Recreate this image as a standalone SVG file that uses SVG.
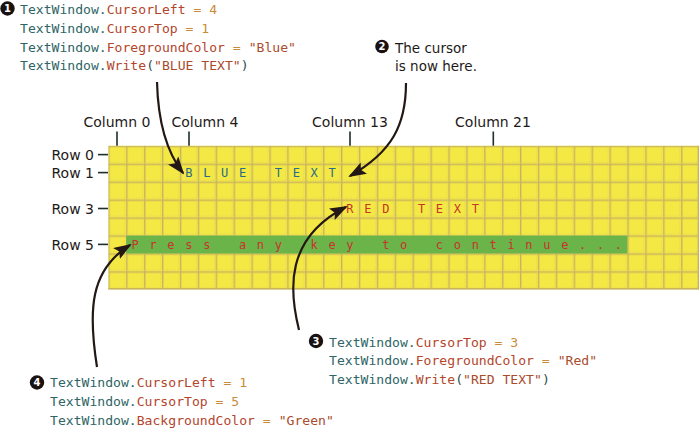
<svg xmlns="http://www.w3.org/2000/svg" width="700" height="429" viewBox="0 0 700 429">
<style>
.lbl{font-family:"DejaVu Sans","Liberation Sans",sans-serif;font-size:14px;fill:#1e1a18}
.code{font-family:"DejaVu Sans Mono","Liberation Mono",monospace;font-size:13.1px;fill:#2e6565;stroke:currentColor;stroke-width:0}
.cell{font-family:"DejaVu Sans Mono","Liberation Mono",monospace;font-size:12px;letter-spacing:10.676px}
.p{fill:#b3452b}.o{fill:#c98c3a}.s{fill:#a84c2c}.k{fill:#2e4e4e}
.tick{stroke:#1e2e2e;stroke-width:1.6}
.arr{fill:none;stroke:#231815;stroke-width:2.2;marker-end:url(#ah)}
.bul{fill:#1a1210}
.bn{font-family:"DejaVu Sans","Liberation Sans",sans-serif;font-size:10px;font-weight:bold;fill:#fff;text-anchor:middle}
</style>
<defs>
<pattern id="cellp" x="108.3" y="145.7" width="17.9" height="17.95" patternUnits="userSpaceOnUse">
<rect width="17.9" height="17.95" fill="#f4e944"/>
<rect width="17.9" height="1.4" fill="#c9b45e"/>
<rect width="1.4" height="17.95" fill="#c9b45e"/>
<line x1="0" y1="16.7" x2="17.9" y2="16.7" stroke="#d2c06a" stroke-width="0.8" stroke-dasharray="1,1.5"/>
<line x1="16.7" y1="0" x2="16.7" y2="17.95" stroke="#d2c06a" stroke-width="0.8" stroke-dasharray="1,1.5"/>
</pattern>
<marker id="ah" viewBox="0 0 18 13" refX="16" refY="6.5" markerWidth="18" markerHeight="13" markerUnits="userSpaceOnUse" orient="auto">
<path d="M0,0 L18,6.5 L0,13 L3.5,6.5 z" fill="#231815"/>
</marker>
</defs>
<g id="grid">
<rect x="108.3" y="145.7" width="590.7" height="143.6" fill="url(#cellp)"/>
<line x1="108.3" y1="288.7" x2="699" y2="288.7" stroke="#c9b45e" stroke-width="1.4"/>
<line x1="698.4" y1="145.7" x2="698.4" y2="289.3" stroke="#c9b45e" stroke-width="1.4"/>
<rect x="126.2" y="235.6" width="501.2" height="17.9" fill="#6ab44a"/>
<text class="cell" x="185.24" y="176.9" fill="#2a6a8a">BLUE TEXT</text>
<text class="cell" x="346.34" y="212.8" fill="#c8332a">RED TEXT</text>
<text class="cell" x="131.54" y="248.7" fill="#c8332a">Press any key to continue...</text>
</g>
<g id="rowLabels">
<text class="lbl" x="94" y="159.8" text-anchor="end">Row 0</text>
<text class="lbl" x="94" y="177.7" text-anchor="end">Row 1</text>
<text class="lbl" x="94" y="213.6" text-anchor="end">Row 3</text>
<text class="lbl" x="94" y="249.5" text-anchor="end">Row 5</text>
<line class="tick" x1="98" y1="154.6" x2="108" y2="154.6"/>
<line class="tick" x1="98" y1="172.6" x2="108" y2="172.6"/>
<line class="tick" x1="98" y1="208.5" x2="108" y2="208.5"/>
<line class="tick" x1="98" y1="244.4" x2="108" y2="244.4"/>
</g>
<g id="columnLabels">
<text class="lbl" x="117" y="126.7" text-anchor="middle">Column 0</text>
<text class="lbl" x="205" y="126.7" text-anchor="middle">Column 4</text>
<text class="lbl" x="350" y="126.7" text-anchor="middle">Column 13</text>
<text class="lbl" x="493" y="126.7" text-anchor="middle">Column 21</text>
<line class="tick" x1="117" y1="131.5" x2="117" y2="145.7"/>
<line class="tick" x1="189" y1="131.5" x2="189" y2="145.7"/>
<line class="tick" x1="350" y1="131.5" x2="350" y2="145.7"/>
<line class="tick" x1="493.3" y1="131.5" x2="493.3" y2="145.7"/>
</g>
<g id="note1">
<circle class="bul" cx="7.5" cy="8.5" r="7.2"/>
<text class="bn" x="7.5" y="12.2">1</text>
<text class="code" x="20" y="13.5">TextWindow.<tspan class="p">CursorLeft</tspan><tspan class="o"> = 4</tspan></text>
<text class="code" x="20" y="32.5">TextWindow.<tspan class="p">CursorTop</tspan><tspan class="o"> = 1</tspan></text>
<text class="code" x="20" y="51.5">TextWindow.<tspan class="p">ForegroundColor</tspan><tspan class="o"> = </tspan><tspan class="s">"Blue"</tspan></text>
<text class="code" x="20" y="70.3">TextWindow.<tspan class="p">Write</tspan><tspan class="k">(</tspan><tspan class="s">"BLUE TEXT"</tspan><tspan class="k">)</tspan></text>
</g>
<g id="note2">
<circle class="bul" cx="382" cy="46.5" r="6.8"/>
<text class="bn" x="382" y="50.2">2</text>
<text class="lbl" x="395" y="52.5" style="font-size:13.5px">The cursor</text>
<text class="lbl" x="395" y="71" style="font-size:13.5px">is now here.</text>
</g>
<g id="note3">
<circle class="bul" cx="316" cy="341" r="7.2"/>
<text class="bn" x="316" y="344.7">3</text>
<text class="code" x="329" y="346.5">TextWindow.<tspan class="p">CursorTop</tspan><tspan class="o"> = 3</tspan></text>
<text class="code" x="329" y="365">TextWindow.<tspan class="p">ForegroundColor</tspan><tspan class="o"> = </tspan><tspan class="s">"Red"</tspan></text>
<text class="code" x="329" y="383.5">TextWindow.<tspan class="p">Write</tspan><tspan class="k">(</tspan><tspan class="s">"RED TEXT"</tspan><tspan class="k">)</tspan></text>
</g>
<g id="note4">
<circle class="bul" cx="37" cy="382.5" r="7.2"/>
<text class="bn" x="37" y="386.2">4</text>
<text class="code" x="50" y="387">TextWindow.<tspan class="p">CursorLeft</tspan><tspan class="o"> = 1</tspan></text>
<text class="code" x="50" y="406">TextWindow.<tspan class="p">CursorTop</tspan><tspan class="o"> = 5</tspan></text>
<text class="code" x="50" y="424.8">TextWindow.<tspan class="p">BackgroundColor</tspan><tspan class="o"> = </tspan><tspan class="s">"Green"</tspan></text>
</g>
<g id="connectors">
<path class="arr" d="M157,82 C158,120 165,150 183,173"/>
<path class="arr" d="M406,83 C406,125 392,152 350,176"/>
<path class="arr" d="M299,330 C289,290 285,238 346,207"/>
<path class="arr" d="M97,367 C88,310 90,270 130,245"/>
</g>
</svg>
